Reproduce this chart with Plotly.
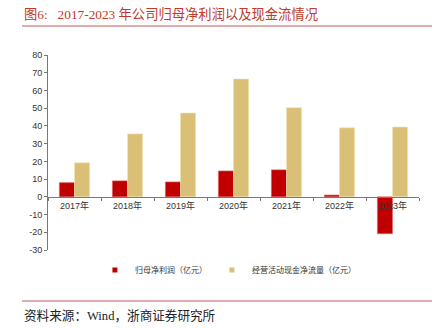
import plotly.graph_objects as go

years = ["2017年", "2018年", "2019年", "2020年", "2021年", "2022年", "2023年"]
net_profit = [8.0, 9.0, 8.4, 14.6, 15.2, 1.0, -20.8]
op_cash_flow = [19.2, 35.5, 47.3, 66.5, 50.3, 38.9, 39.4]
series_names = ["归母净利润（亿元）", "经营活动现金净流量（亿元）"]
y_ticks = [80, 70, 60, 50, 40, 30, 20, 10, 0, -10, -20, -30]
y_tick_text = [str(v) for v in y_ticks]

RED = "#C00000"
TAN = "#DAC076"

fig = go.Figure()
fig.add_trace(go.Bar(x=years, y=net_profit, name=series_names[0], showlegend=False,
                     marker=dict(color=RED, line=dict(color="#E06060", width=0.6))))
fig.add_trace(go.Bar(x=years, y=op_cash_flow, name=series_names[1], showlegend=False,
                     marker=dict(color=TAN, line=dict(color="#F2E4B8", width=0.6))))
# legend entries with small square swatches
for nm, col in zip(series_names, [RED, TAN]):
    fig.add_trace(go.Scatter(x=[None], y=[None], mode="markers", name=nm,
                             marker=dict(symbol="square", size=5, color=col)))

ymin, ymax = -30, 80
zero_pos = (0 - ymin) / (ymax - ymin)

fig.update_layout(
    width=446, height=328,
    margin=dict(l=48, r=27, t=55, b=78),
    paper_bgcolor="white", plot_bgcolor="white",
    barmode="group", bargap=0.43, bargroupgap=0,
    font=dict(family="Liberation Sans, Noto Sans CJK SC", size=9, color="#333333"),
    showlegend=True,
    legend=dict(orientation="h", x=0.485, xanchor="center", y=-0.103, yanchor="middle",
                font=dict(family="Noto Sans CJK SC", size=8, color="#333333"),
                itemwidth=30, tracegroupgap=0, bgcolor="rgba(0,0,0,0)"),
    xaxis=dict(anchor="free", position=zero_pos, showline=True, linecolor="#777777",
               linewidth=1, ticks="outside", tickson="boundaries", ticklen=3,
               tickcolor="#777777", showgrid=False, zeroline=False,
               tickfont=dict(size=9, color="#333333")),
    yaxis=dict(range=[ymin, ymax], tickvals=y_ticks, ticktext=y_tick_text,
               showline=True, linecolor="#777777", linewidth=1, ticks="outside",
               ticklen=3, tickcolor="#777777", showgrid=False, zeroline=False,
               tickfont=dict(size=9, color="#333333")),
)

# paper coords: x 0->48px, 1->419px; y 0->250px, 1->55px
def px_x(p):
    return (p - 48) / 371

def px_y(p):
    return (250 - p) / 195

fig.add_annotation(text="图6:   2017-2023 年公司归母净利润以及现金流情况",
                   xref="paper", yref="paper", x=px_x(22), y=px_y(14),
                   xanchor="left", yanchor="middle", showarrow=False,
                   font=dict(family="Liberation Serif, Noto Sans CJK SC", size=13.3, color="#C0392B"))
fig.add_shape(type="line", xref="paper", yref="paper",
              x0=px_x(22), x1=px_x(432), y0=px_y(26), y1=px_y(26),
              line=dict(color="#C85A5A", width=1))
fig.add_shape(type="line", xref="paper", yref="paper",
              x0=px_x(22), x1=px_x(432), y0=px_y(301), y1=px_y(301),
              line=dict(color="#C85A5A", width=1))
fig.add_annotation(text="资料来源：Wind，浙商证券研究所",
                   xref="paper", yref="paper", x=px_x(22), y=px_y(315),
                   xanchor="left", yanchor="middle", showarrow=False,
                   font=dict(family="Liberation Serif, Noto Sans CJK SC", size=12.6, color="#222222"))

fig.write_html("out.html")
